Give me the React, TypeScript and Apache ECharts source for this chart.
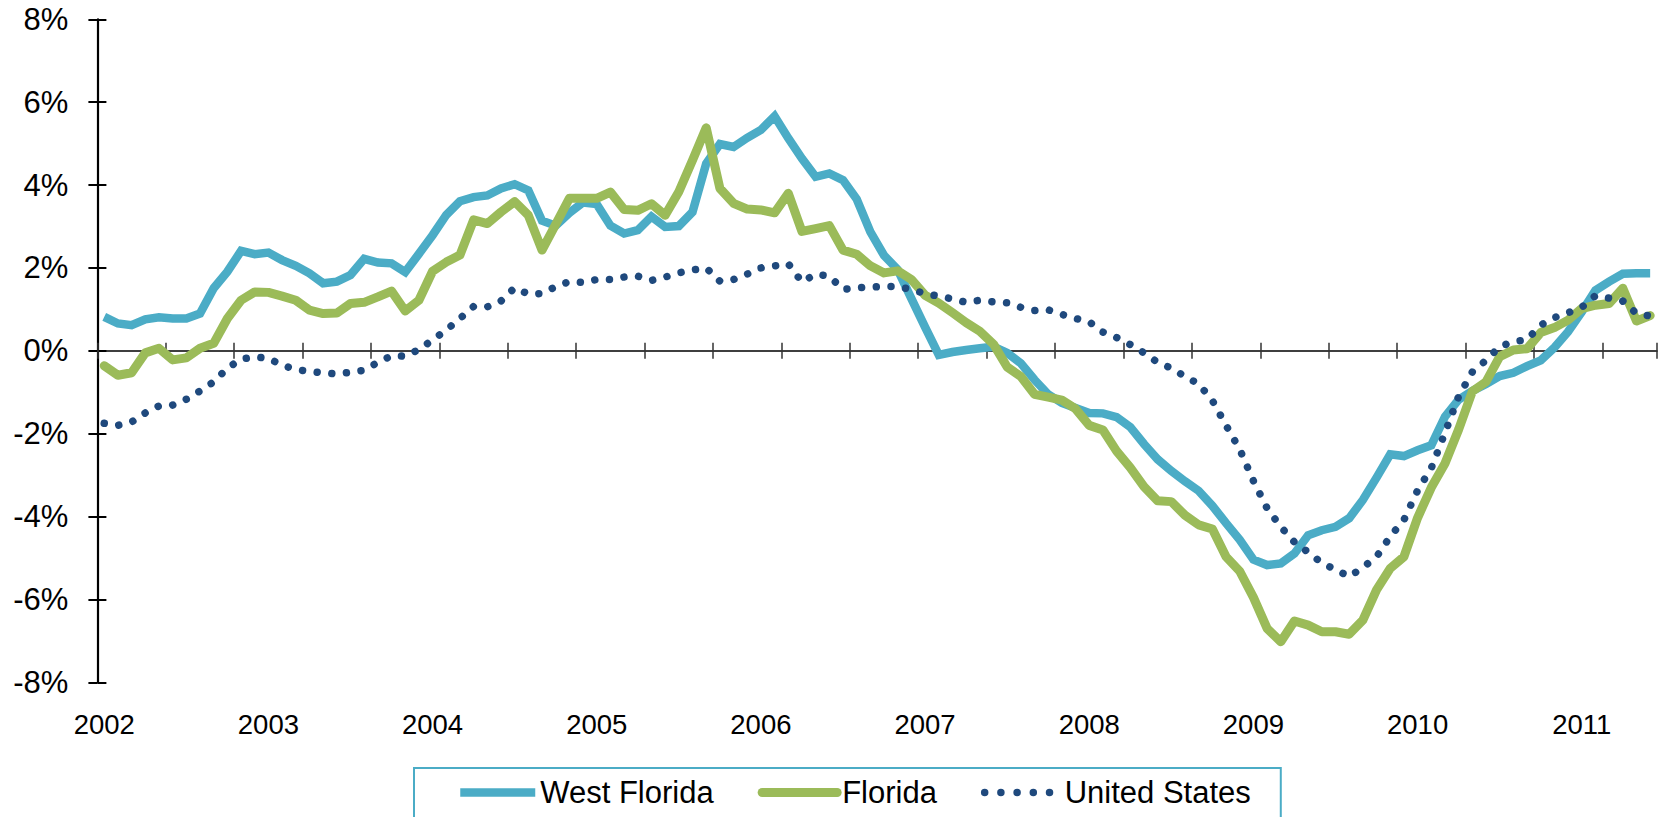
import React, { useEffect, useRef } from 'react';
import * as echarts from 'echarts';

const years = ['2002', '2003', '2004', '2005', '2006', '2007', '2008', '2009', '2010', '2011'];
const months = ['01', '02', '03', '04', '05', '06', '07', '08', '09', '10', '11', '12'];

const westFlorida = [
  0.82, 0.66, 0.62, 0.76, 0.81, 0.78, 0.78, 0.90, 1.51, 1.91, 2.41, 2.33,
  2.37, 2.19, 2.05, 1.87, 1.63, 1.67, 1.83, 2.22, 2.13, 2.11, 1.90, 2.34,
  2.79, 3.28, 3.61, 3.71, 3.75, 3.92, 4.02, 3.87, 3.14, 3.02, 3.33, 3.58,
  3.54, 3.02, 2.83, 2.91, 3.24, 2.99, 3.01, 3.35, 4.52, 4.99, 4.92, 5.14,
  5.33, 5.66, 5.13, 4.64, 4.20, 4.28, 4.12, 3.66, 2.87, 2.30, 1.96, 1.26,
  0.57, -0.10, -0.03, 0.02, 0.06, 0.10, -0.05, -0.30, -0.70, -1.05, -1.26, -1.38,
  -1.50, -1.51, -1.60, -1.84, -2.25, -2.62, -2.90, -3.15, -3.38, -3.74, -4.16, -4.56,
  -5.04, -5.17, -5.13, -4.89, -4.45, -4.33, -4.25, -4.04, -3.60, -3.06, -2.50, -2.54,
  -2.40, -2.28, -1.59, -1.18, -0.97, -0.80, -0.61, -0.53, -0.37, -0.23, 0.08, 0.46,
  0.94, 1.46, 1.67, 1.86, 1.87, 1.87,
];

const florida = [
  -0.36, -0.59, -0.53, -0.05, 0.06, -0.22, -0.17, 0.06, 0.18, 0.78, 1.22, 1.42,
  1.41, 1.32, 1.22, 0.98, 0.90, 0.91, 1.14, 1.17, 1.30, 1.44, 0.96, 1.22,
  1.92, 2.14, 2.31, 3.16, 3.07, 3.35, 3.60, 3.27, 2.43, 3.05, 3.68, 3.68,
  3.68, 3.83, 3.41, 3.39, 3.55, 3.27, 3.84, 4.60, 5.38, 3.92, 3.56, 3.42,
  3.40, 3.33, 3.80, 2.88, 2.95, 3.02, 2.43, 2.33, 2.05, 1.88, 1.93, 1.72,
  1.34, 1.15, 0.92, 0.68, 0.47, 0.16, -0.39, -0.62, -1.05, -1.12, -1.19, -1.40,
  -1.80, -1.91, -2.42, -2.82, -3.28, -3.62, -3.64, -3.97, -4.20, -4.30, -4.97, -5.32,
  -5.95, -6.70, -7.02, -6.52, -6.62, -6.78, -6.78, -6.84, -6.50, -5.77, -5.25, -4.97,
  -4.03, -3.30, -2.72, -1.90, -0.98, -0.75, -0.14, 0.02, 0.05, 0.44, 0.56, 0.74,
  1.02, 1.10, 1.14, 1.51, 0.72, 0.85,
];

const unitedStates = [
  -1.75, -1.80, -1.72, -1.50, -1.33, -1.31, -1.17, -0.97, -0.75, -0.42, -0.20, -0.15,
  -0.18, -0.35, -0.45, -0.50, -0.53, -0.56, -0.52, -0.47, -0.28, -0.12, -0.13, 0.03,
  0.26, 0.50, 0.78, 1.07, 1.06, 1.20, 1.52, 1.37, 1.38, 1.55, 1.67, 1.65,
  1.72, 1.72, 1.78, 1.80, 1.70, 1.78, 1.88, 1.95, 2.00, 1.68, 1.72, 1.85,
  2.00, 2.05, 2.10, 1.66, 1.85, 1.80, 1.48, 1.52, 1.54, 1.55, 1.55, 1.48,
  1.38, 1.32, 1.25, 1.17, 1.22, 1.18, 1.16, 1.05, 0.97, 0.99, 0.88, 0.78,
  0.70, 0.45, 0.32, 0.15, -0.05, -0.28, -0.42, -0.62, -0.80, -1.20, -1.80, -2.38,
  -3.14, -3.80, -4.25, -4.62, -4.86, -5.12, -5.28, -5.45, -5.23, -4.97, -4.48, -4.08,
  -3.37, -2.83, -1.98, -1.10, -0.51, -0.23, 0.10, 0.22, 0.27, 0.62, 0.80, 0.92,
  1.05, 1.33, 1.27, 1.20, 0.90, 0.84,
];

const seriesNames = ['West Florida', 'Florida', 'United States'];
const seriesColors = ['#4BACC6', '#9BBB59', '#1F497D'];

const categories = years
  .flatMap((y) => months.map((m) => `${y}-${m}`))
  .slice(0, westFlorida.length);

const FONT = "'Liberation Sans', Arial, Helvetica, sans-serif";
const AXIS_DARK = '#333333';

function buildOption() {
  const zeroAxisBase = {
    type: 'category',
    data: categories,
    boundaryGap: true,
    position: 'bottom',
    axisLabel: { show: false },
    splitLine: { show: false },
  };
  return {
    animation: false,
    backgroundColor: '#ffffff',
    grid: {
      left: 97.4,
      right: 3,
      top: 19.3,
      bottom: 134.7,
      containLabel: false,
      outerBoundsMode: 'none',
    },
    xAxis: [
      {
        type: 'category',
        data: categories,
        boundaryGap: true,
        position: 'bottom',
        axisLine: { show: false, onZero: false },
        axisTick: { show: false },
        splitLine: { show: false },
        axisLabel: {
          interval: 11,
          margin: 28,
          fontSize: 27.5,
          fontFamily: FONT,
          color: '#000000',
          formatter: (v: string) => (v.endsWith('-01') ? v.slice(0, 4) : ''),
        },
      },
      {
        ...zeroAxisBase,
        axisLine: { show: true, onZero: true, onZeroAxisIndex: 0, lineStyle: { color: AXIS_DARK, width: 1.5 } },
        axisTick: { show: true, interval: 4, length: 8, lineStyle: { color: AXIS_DARK, width: 1.5 } },
      },
      {
        ...zeroAxisBase,
        axisLine: { show: true, onZero: true, onZeroAxisIndex: 0, lineStyle: { color: AXIS_DARK, width: 1.5 } },
        axisTick: { show: true, inside: true, interval: 4, length: 8, lineStyle: { color: AXIS_DARK, width: 1.5 } },
      },
    ],
    yAxis: [
      {
        type: 'value',
        min: -8,
        max: 8,
        interval: 2,
        position: 'left',
        axisLine: { show: true, lineStyle: { color: '#000000', width: 2.2 } },
        axisTick: { show: true, length: 9, lineStyle: { color: '#000000', width: 2 } },
        axisLabel: {
          margin: 29,
          fontSize: 31,
          fontFamily: FONT,
          color: '#000000',
          formatter: '{value}%',
        },
        splitLine: { show: false },
      },
      {
        type: 'value',
        min: -8,
        max: 8,
        interval: 2,
        position: 'left',
        axisLine: { show: false },
        axisTick: { show: true, inside: true, length: 9, lineStyle: { color: '#000000', width: 2 } },
        axisLabel: { show: false },
        splitLine: { show: false },
      },
    ],
    legend: {
      left: 414,
      top: 768,
      orient: 'horizontal',
      padding: [9, 30, 20, 42],
      borderColor: '#4BACC6',
      borderWidth: 2,
      itemWidth: 75,
      itemHeight: 14,
      itemGap: 44,
      selectedMode: false,
      itemStyle: { opacity: 0 },
      textStyle: { fontSize: 31, fontFamily: FONT, color: '#000000' },
      data: [
        { name: seriesNames[0], lineStyle: { width: 8.5 } },
        { name: seriesNames[1], lineStyle: { width: 9, cap: 'round' } },
        { name: seriesNames[2], lineStyle: { width: 7.5, type: [0.01, 16.2], cap: 'round' } },
      ],
    },
    series: [
      {
        name: seriesNames[0],
        type: 'line',
        xAxisIndex: 0,
        yAxisIndex: 0,
        data: westFlorida,
        symbol: 'none',
        showSymbol: false,
        color: seriesColors[0],
        lineStyle: { color: seriesColors[0], width: 8.5, join: 'miter' },
        z: 2,
      },
      {
        name: seriesNames[1],
        type: 'line',
        xAxisIndex: 0,
        yAxisIndex: 0,
        data: florida,
        symbol: 'none',
        showSymbol: false,
        color: seriesColors[1],
        lineStyle: { color: seriesColors[1], width: 9, join: 'round', cap: 'round' },
        z: 3,
      },
      {
        name: seriesNames[2],
        type: 'line',
        xAxisIndex: 0,
        yAxisIndex: 0,
        data: unitedStates,
        symbol: 'none',
        showSymbol: false,
        color: seriesColors[2],
        lineStyle: { color: seriesColors[2], width: 7.5, type: [0.01, 14.7], cap: 'round', join: 'round' },
        z: 4,
      },
    ],
  };
}

export default function App() {
  const ref = useRef<HTMLDivElement>(null);
  useEffect(() => {
    if (!ref.current) return;
    const chart = echarts.init(ref.current, undefined, { renderer: 'svg' });
    chart.setOption(buildOption() as any);
    return () => {
      chart.dispose();
    };
  }, []);
  return (
    <div
      ref={ref}
      style={{ position: 'absolute', left: 0, top: 0, width: 1660, height: 817, background: '#ffffff' }}
    />
  );
}
